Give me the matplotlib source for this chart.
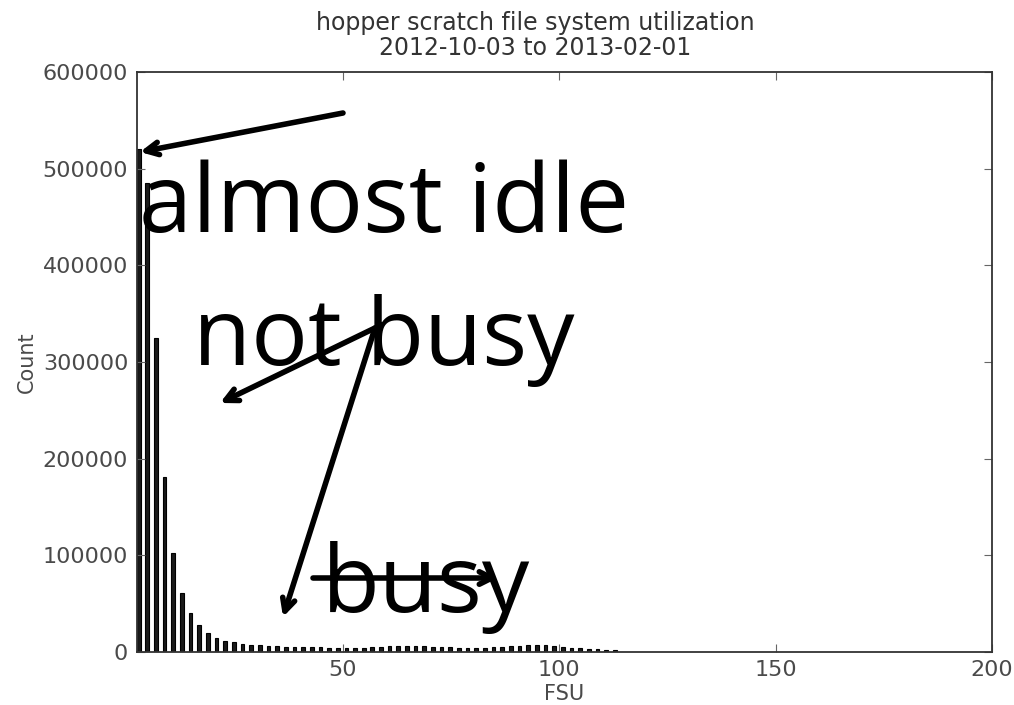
import matplotlib
matplotlib.use("Agg")
import matplotlib.pyplot as plt
import numpy as np

# ---- data ----
bin_start = 2.8      # first bar center (FSU)
bin_step = 2.0       # FSU per bar
counts = [520000, 485000, 325000, 181000, 102000, 61000, 40000, 28000, 20000, 15000,
          11500, 10000, 8500, 7500, 7000, 6500, 6000, 5500, 5500, 5000,
          5000, 5000, 4500, 4500, 4500, 4000, 4500, 5000, 5500, 6000,
          6500, 6500, 6000, 6000, 5500, 5000, 5000, 4500, 4500, 4500,
          4500, 5000, 5500, 6000, 6500, 7000, 7500, 7000, 6000, 5000,
          4500, 4000, 3500, 3000, 2500, 2000]
fsu = [bin_start + bin_step * i for i in range(len(counts))]
x_ticks = [50, 100, 150, 200]
y_ticks = [0, 100000, 200000, 300000, 400000, 500000, 600000]
title = "hopper scratch file system utilization\n2012-10-03 to 2013-02-01"

W, H = 1014, 705
L, R, T, B = 136.5, 992, 72, 652
fig = plt.figure(figsize=(W / 100, H / 100), dpi=100)
ax = fig.add_axes([L / W, 1 - B / H, (R - L) / W, (B - T) / H])

ax.bar(fsu, counts, width=0.85, color="#1a1a1a", edgecolor="black", linewidth=0.8)
ax.set_xlim(2.3, 200)
ax.set_ylim(0, 600000)
ax.set_xticks(x_ticks)
ax.set_yticks(y_ticks)
ax.ticklabel_format(style="plain", axis="y")
tc = "#4a4a4a"
ax.tick_params(direction="in", top=True, right=True, length=6, width=0.8,
               labelsize=16, labelcolor=tc, color="#666666", pad=6)
for s in ax.spines.values():
    s.set_linewidth(1.3)
    s.set_color("#333333")
ax.set_xlabel("FSU", fontsize=15, color=tc, labelpad=3)
ax.set_ylabel("Count", fontsize=15, color=tc, labelpad=4)
ax.set_title(title, fontsize=17, color="#333333", pad=12, linespacing=1.05,
             x=(535 - L) / (R - L))

# ---- overlay annotations (figure pixel coordinates) ----
def fp(x, y):
    return (x / W, 1 - y / H)

big = dict(family=["Open Sans", "DejaVu Sans"], color="black", transform=fig.transFigure)
fig.text(*fp(139, 232), "almost idle", fontsize=69, ha="left", va="baseline", **big)
fig.text(*fp(193, 365), "not busy", fontsize=68, ha="left", va="baseline", **big)
fig.text(*fp(322, 612), "busy", fontsize=68, ha="left", va="baseline", **big)

arrow = dict(arrowstyle="->,head_length=0.9,head_width=0.45", color="black", lw=4,
             shrinkA=0, shrinkB=0, capstyle="round", joinstyle="round")
def arr(x0, y0, x1, y1):
    ax.annotate("", xy=fp(x1, y1), xytext=fp(x0, y0), xycoords="figure fraction",
                textcoords="figure fraction", arrowprops=arrow, annotation_clip=False)

arr(343, 113, 140, 152)
arr(375, 328, 220, 403)
arr(375, 328, 283, 617)
arr(313, 578, 498, 578)

fig.savefig("out.png", dpi=100)
